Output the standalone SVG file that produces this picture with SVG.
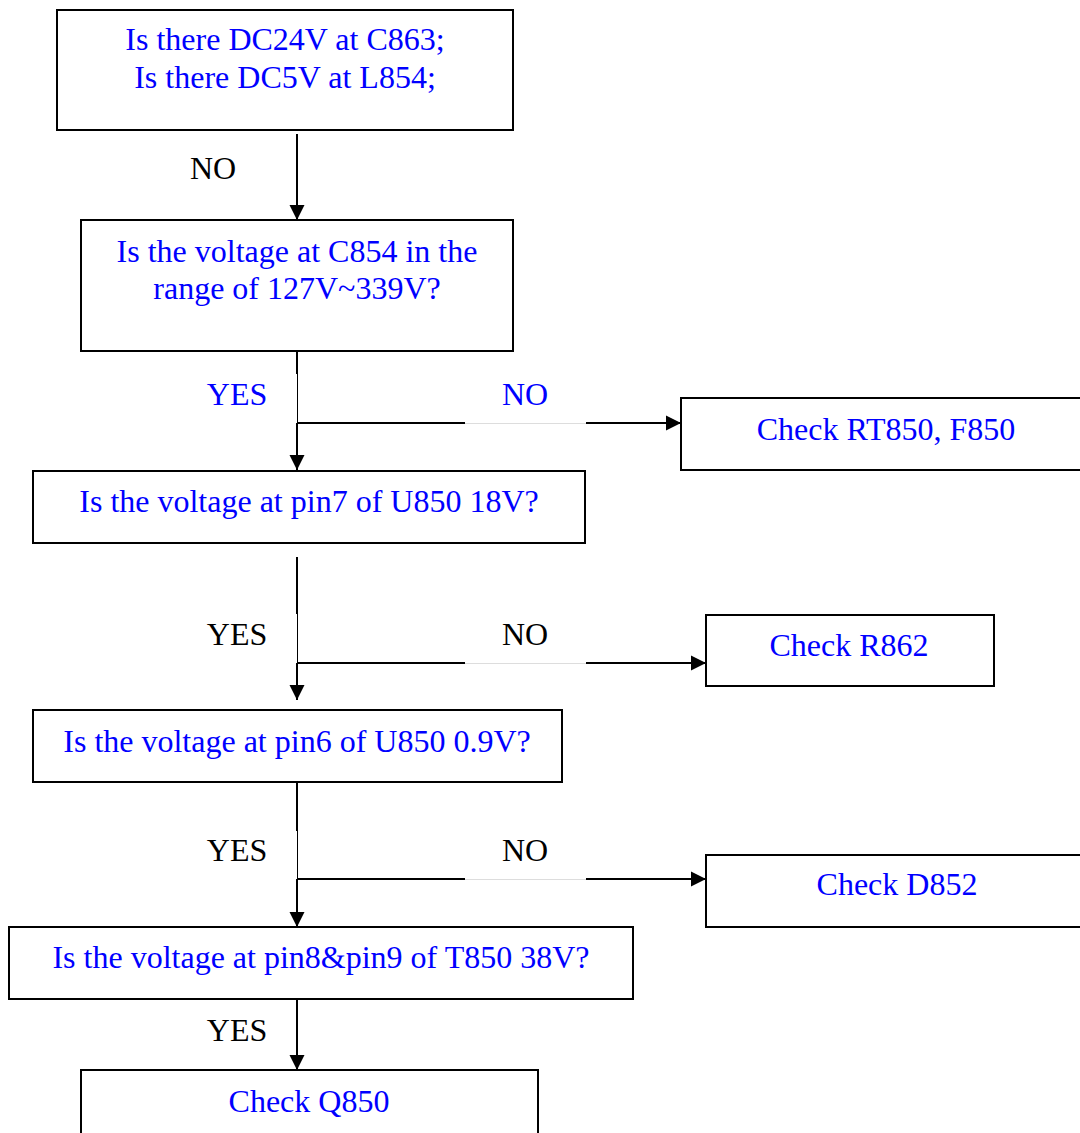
<svg xmlns="http://www.w3.org/2000/svg" width="1080" height="1133" viewBox="0 0 1080 1133">
  <style>
    .box { fill: #fff; stroke: #000; stroke-width: 2; }
    .t { font-family: "Liberation Serif", "Times New Roman", serif; font-size: 32px; text-anchor: middle; }
    .blue { fill: #0000ff; }
    .black { fill: #000; }
    .ln { stroke: #000; stroke-width: 2; fill: none; }
    .thin { stroke: #000; stroke-width: 1; fill: none; }
    .gap { stroke: #dddddd; stroke-width: 1; fill: none; }
  </style>
  <defs>
    <marker id="arrow" markerUnits="userSpaceOnUse" markerWidth="16" markerHeight="16" refX="15" refY="8" orient="auto">
      <path d="M0,0.5 L15,8 L0,15.5 Z" fill="#000"/>
    </marker>
  </defs>
  <rect width="1080" height="1133" fill="#fff"/>

  <g id="connectors">
    <!-- first check to mains check -->
    <line class="ln" x1="297" y1="134" x2="297" y2="220" marker-end="url(#arrow)"/>
    <!-- branch after C854 check -->
    <line class="ln" x1="297" y1="351" x2="297" y2="374"/>
    <line class="thin" x1="297.5" y1="374" x2="297.5" y2="423"/>
    <line class="ln" x1="297" y1="423" x2="297" y2="470" marker-end="url(#arrow)"/>
    <line class="ln" x1="297" y1="423" x2="465" y2="423"/>
    <line class="gap" x1="465" y1="423.5" x2="586" y2="423.5"/>
    <line class="ln" x1="586" y1="423" x2="681" y2="423" marker-end="url(#arrow)"/>
    <!-- branch after pin7 check -->
    <line class="ln" x1="297" y1="557" x2="297" y2="614"/>
    <line class="thin" x1="297.5" y1="614" x2="297.5" y2="663"/>
    <line class="ln" x1="297" y1="663" x2="297" y2="700" marker-end="url(#arrow)"/>
    <line class="ln" x1="297" y1="663" x2="465" y2="663"/>
    <line class="gap" x1="465" y1="663.5" x2="586" y2="663.5"/>
    <line class="ln" x1="586" y1="663" x2="706" y2="663" marker-end="url(#arrow)"/>
    <!-- branch after pin6 check -->
    <line class="ln" x1="297" y1="783" x2="297" y2="831"/>
    <line class="thin" x1="297.5" y1="831" x2="297.5" y2="879"/>
    <line class="ln" x1="297" y1="879" x2="297" y2="927" marker-end="url(#arrow)"/>
    <line class="ln" x1="297" y1="879" x2="465" y2="879"/>
    <line class="gap" x1="465" y1="879.5" x2="586" y2="879.5"/>
    <line class="ln" x1="586" y1="879" x2="706" y2="879" marker-end="url(#arrow)"/>
    <!-- pin8/pin9 check to Q850 -->
    <line class="ln" x1="297" y1="999" x2="297" y2="1070" marker-end="url(#arrow)"/>

    <text class="t black" x="213" y="179">NO</text>
    <text class="t blue" x="237" y="405">YES</text>
    <text class="t blue" x="525" y="405">NO</text>
    <text class="t black" x="237" y="645">YES</text>
    <text class="t black" x="525" y="645">NO</text>
    <text class="t black" x="237" y="861">YES</text>
    <text class="t black" x="525" y="861">NO</text>
    <text class="t black" x="237" y="1041">YES</text>
  </g>

  <g id="dc-check">
    <rect class="box" x="57" y="10" width="456" height="120"/>
    <text class="t blue" x="285" y="50">Is there DC24V at C863;</text>
    <text class="t blue" x="285" y="88">Is there DC5V at L854;</text>
  </g>

  <g id="c854-check">
    <rect class="box" x="81" y="220" width="432" height="131"/>
    <text class="t blue" x="297" y="262">Is the voltage at C854 in the</text>
    <text class="t blue" x="297" y="299">range of 127V~339V?</text>
  </g>

  <g id="check-rt850">
    <rect class="box" x="681" y="398" width="420" height="72"/>
    <text class="t blue" x="886" y="440">Check RT850, F850</text>
  </g>

  <g id="pin7-check">
    <rect class="box" x="33" y="471" width="552" height="72"/>
    <text class="t blue" x="309" y="512">Is the voltage at pin7 of U850 18V?</text>
  </g>

  <g id="check-r862">
    <rect class="box" x="706" y="615" width="288" height="71"/>
    <text class="t blue" x="849" y="656">Check R862</text>
  </g>

  <g id="pin6-check">
    <rect class="box" x="33" y="710" width="529" height="72"/>
    <text class="t blue" x="297" y="752">Is the voltage at pin6 of U850 0.9V?</text>
  </g>

  <g id="check-d852">
    <rect class="box" x="706" y="855" width="400" height="72"/>
    <text class="t blue" x="897" y="895">Check D852</text>
  </g>

  <g id="pin8-9-check">
    <rect class="box" x="9" y="927" width="624" height="72"/>
    <text class="t blue" x="321" y="968">Is the voltage at pin8&amp;pin9 of T850 38V?</text>
  </g>

  <g id="check-q850">
    <rect class="box" x="81" y="1070" width="457" height="90"/>
    <text class="t blue" x="309" y="1112">Check Q850</text>
  </g>
</svg>
